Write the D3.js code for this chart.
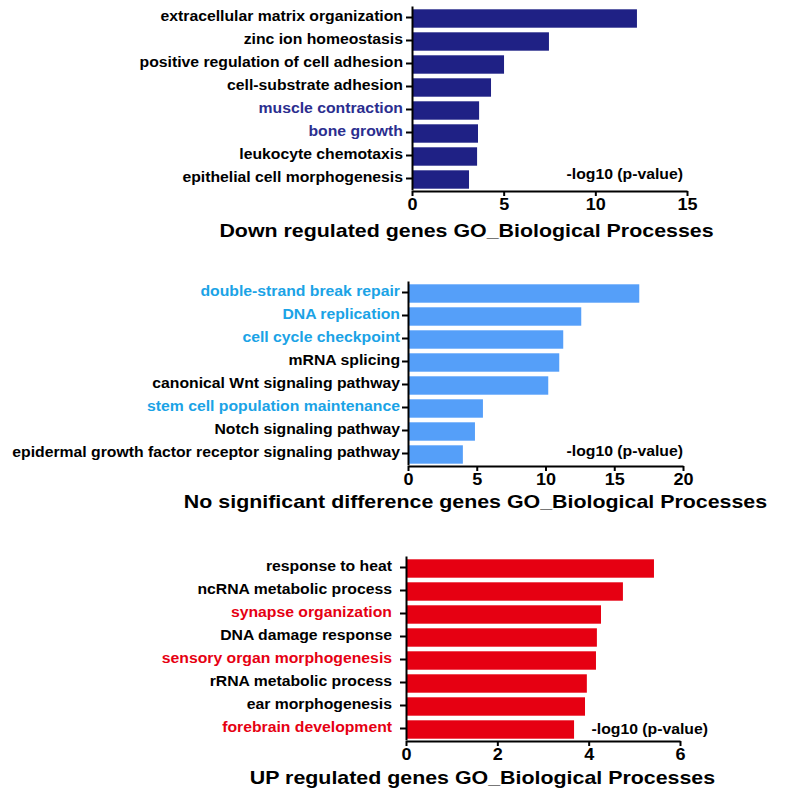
<!DOCTYPE html>
<html>
<head>
<meta charset="utf-8">
<script src="https://cdn.jsdelivr.net/npm/d3@7/dist/d3.min.js"></script>
<style>
  html, body { margin: 0; padding: 0; background: #ffffff; }
  svg { display: block; font-family: "Liberation Sans", Arial, Helvetica, sans-serif; font-weight: bold; }
</style>
</head>
<body>
<svg id="chart" width="785" height="798"></svg>
<script>
// GO biological process enrichment, -log10(p-value), three gene groups

const downTerms = [
  "extracellular matrix organization",
  "zinc ion homeostasis",
  "positive regulation of cell adhesion",
  "cell-substrate adhesion",
  "muscle contraction",
  "bone growth",
  "leukocyte chemotaxis",
  "epithelial cell morphogenesis"
];
const downValues = [12.27, 7.47, 5.02, 4.31, 3.66, 3.6, 3.55, 3.11];
const downHighlighted = ["muscle contraction", "bone growth"];
const downTicks = [0, 5, 10, 15];

const nsTerms = [
  "double-strand break repair",
  "DNA replication",
  "cell cycle checkpoint",
  "mRNA splicing",
  "canonical Wnt signaling pathway",
  "stem cell population maintenance",
  "Notch signaling pathway",
  "epidermal growth factor receptor signaling pathway"
];
const nsValues = [16.82, 12.6, 11.29, 11.0, 10.2, 5.45, 4.87, 3.99];
const nsHighlighted = ["double-strand break repair", "DNA replication", "cell cycle checkpoint", "stem cell population maintenance"];
const nsTicks = [0, 5, 10, 15, 20];

const upTerms = [
  "response to heat",
  "ncRNA metabolic process",
  "synapse organization",
  "DNA damage response",
  "sensory organ morphogenesis",
  "rRNA metabolic process",
  "ear morphogenesis",
  "forebrain development"
];
const upValues = [5.43, 4.75, 4.27, 4.18, 4.16, 3.96, 3.92, 3.68];
const upHighlighted = ["synapse organization", "sensory organ morphogenesis", "forebrain development"];
const upTicks = [0, 2, 4, 6];

const axisLabel = "-log10 (p-value)";
const titles = [
  "Down regulated genes GO_Biological Processes",
  "No significant difference genes GO_Biological Processes",
  "UP regulated genes GO_Biological Processes"
];

const svg = d3.select("#chart");
const FONT = "'Liberation Sans', Arial, sans-serif";
const WIDEN = 1.125; // lettering is drawn slightly wide

// stretch each text horizontally by the widening factor
function widen(sel) {
  sel.each(function () {
    const w = this.getComputedTextLength();
    d3.select(this).attr("textLength", w * WIDEN).attr("lengthAdjust", "spacingAndGlyphs");
  });
}

const panels = [
  { terms: downTerms, values: downValues, hi: downHighlighted, ticks: downTicks,
    bar: "#1f2185", hiText: "#2b2e8f", x0: 412, x1: 687, top: 7, bottom: 191,
    title: titles[0], titleX: 466.5, titleY: 237, noteX: 683, noteY: 179, tickSize: 6, tickPad: 3 },
  { terms: nsTerms, values: nsValues, hi: nsHighlighted, ticks: nsTicks,
    bar: "#559ff9", hiText: "#1ba3e6", x0: 408, x1: 683, top: 282, bottom: 466,
    title: titles[1], titleX: 475.5, titleY: 508, noteX: 683, noteY: 456, tickSize: 6, tickPad: 2 },
  { terms: upTerms, values: upValues, hi: upHighlighted, ticks: upTicks,
    bar: "#e60012", hiText: "#e60012", x0: 406, x1: 680, top: 557, bottom: 741,
    title: titles[2], titleX: 482.5, titleY: 784, noteX: 708, noteY: 734, tickSize: 6, tickPad: 8 }
];

panels.forEach(p => {
  const xMax = p.ticks[p.ticks.length - 1];
  const x = d3.scaleLinear().domain([0, xMax]).range([p.x0, p.x1]);
  const y = d3.scaleBand().domain(p.terms).range([p.top, p.bottom]).paddingInner(0.2).paddingOuter(0.1);

  const g = svg.append("g");

  // bars
  g.selectAll("rect.bar")
    .data(p.terms.map((t, i) => ({ term: t, value: p.values[i] })))
    .join("rect")
    .attr("class", "bar")
    .attr("x", x(0) + 1)
    .attr("y", d => y(d.term))
    .attr("width", d => x(d.value) - x(0) - 1)
    .attr("height", y.bandwidth())
    .attr("fill", p.bar);

  // category axis
  const yAxis = g.append("g")
    .attr("transform", `translate(${x(0)},-1)`)
    .call(d3.axisLeft(y).tickSize(p.tickSize).tickPadding(p.tickPad).tickSizeOuter(0));
  yAxis.select(".domain").attr("stroke", "#000").attr("stroke-width", 2);
  yAxis.selectAll(".tick line").attr("stroke", "#000").attr("stroke-width", 2);
  yAxis.selectAll(".tick text")
    .attr("font-size", 14)
    .attr("font-weight", "bold")
    .attr("font-family", FONT)
    .attr("dy", "0.28em")
    .attr("fill", d => p.hi.includes(d) ? p.hiText : "#000")
    .call(widen);

  // value axis
  const xAxis = g.append("g")
    .attr("transform", `translate(0,${p.bottom})`)
    .call(d3.axisBottom(x).tickValues(p.ticks).tickFormat(d3.format("d")).tickSize(5).tickPadding(3).tickSizeOuter(0));
  xAxis.select(".domain").attr("stroke", "#000").attr("stroke-width", 2);
  xAxis.selectAll(".tick line").attr("stroke", "#000").attr("stroke-width", 2);
  xAxis.selectAll(".tick text")
    .attr("font-size", 16)
    .attr("font-weight", "bold")
    .attr("font-family", FONT)
    .attr("fill", "#000")
    .call(widen);

  // axis caption inside the plot
  g.append("text")
    .attr("x", p.noteX)
    .attr("y", p.noteY)
    .attr("text-anchor", "end")
    .attr("font-size", 14)
    .attr("fill", "#000")
    .text(axisLabel)
    .call(widen);

  // panel title
  g.append("text")
    .attr("x", p.titleX)
    .attr("y", p.titleY)
    .attr("text-anchor", "middle")
    .attr("font-size", 19)
    .attr("fill", "#000")
    .text(p.title)
    .call(widen);
});
</script>
</body>
</html>
